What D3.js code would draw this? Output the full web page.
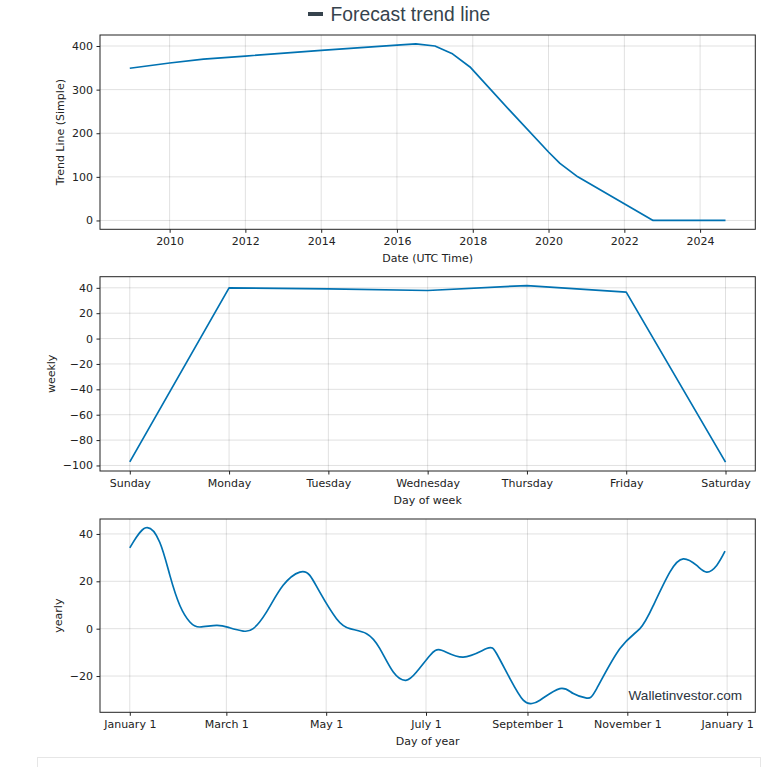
<!DOCTYPE html>
<html>
<head>
<meta charset="utf-8">
<script src="https://cdn.jsdelivr.net/npm/d3@7"></script>
<style>
  html, body { margin: 0; padding: 0; background: #fff; }
  svg { display: block; }
  .tick text { font-family: "DejaVu Sans", sans-serif; font-size: 11px; fill: #222; }
</style>
</head>
<body>
<svg id="chart" width="777" height="767"></svg>
<script>
// ---------------- DATA ----------------
const trendDates = ["2008-12-13","2010-01-01","2010-11-24","2012-01-01","2014-01-01","2016-01-01",
  "2016-07-01","2017-01-01","2017-06-13","2017-12-05","2019-01-01","2020-01-01","2020-04-20",
  "2020-10-09","2022-10-05","2024-09-02"];
const trendValues = [349, 361, 370, 377, 390, 402, 405, 400, 383, 352, 250, 157, 131, 100, 0, 0];
const trendTickYears = [2010, 2012, 2014, 2016, 2018, 2020, 2022, 2024];
const trendYTicks = [0, 100, 200, 300, 400];

const weekDays = ["Sunday","Monday","Tuesday","Wednesday","Thursday","Friday","Saturday"];
const weeklyValues = [-97.2, 40.0, 39.2, 37.9, 41.8, 36.6, -97.4];
const weeklyYTicks = [-100, -80, -60, -40, -20, 0, 20, 40];

const yearlyDays = [0, 9.8, 18.3, 24.5, 30.6, 36.7, 42.8, 53, 61, 69.3, 75.4, 83.5, 93.7, 103.9, 110,
  116.1, 126.3, 134.5, 144.7, 152.8, 161, 168.7, 175.2, 183.4, 190.5, 203.7, 218, 224.1, 232.3,
  240.4, 245.5, 250.6, 262.8, 271, 279.2, 285.3, 299.5, 311.7, 319.9, 330, 338.2, 346.4, 352.5,
  358.6, 363.7];
const yearlyValues = [34.1, 42.6, 36.5, 22.5, 9.8, 2.8, 0.7, 1.4, 0.4, -1.0, 0, 7.0, 18.3, 23.9, 22.5,
  15.4, 4.2, 0, -2.1, -8.4, -18.3, -21.8, -18.3, -11.3, -9.1, -12.0, -8.4, -10.5, -21.1,
  -30.2, -31.6, -30.2, -25.3, -27.4, -29.3, -25.3, -8.4, 0, 9.8, 23.9, 29.5, 26.7, 23.9,
  26.7, 32.7];
const yearlyTickLabels = ["January 1","March 1","May 1","July 1","September 1","November 1","January 1"];
const yearlyTickDates = ["2017-01-01","2017-03-01","2017-05-01","2017-07-01","2017-09-01","2017-11-01","2018-01-01"];
const yearlyYTicks = [-20, 0, 20, 40];

// ---------------- LAYOUT ----------------
const svg = d3.select("#chart");
const lineColor = "#0072B2";
const L = 100, R = 755.3;
const panels = [
  { top: 35, bottom: 229.3, ylabX: 60, ylabel: "Trend Line (Simple)", xlabel: "Date (UTC Time)" },
  { top: 276.7, bottom: 471, ylabX: 51, ylabel: "weekly", xlabel: "Day of week" },
  { top: 519, bottom: 712.3, ylabX: 58, ylabel: "yearly", xlabel: "Day of year" }
];

function pad(ext, isTime) {
  const a = +ext[0], b = +ext[1], m = (b - a) * 0.05;
  return isTime ? [new Date(a - m), new Date(b + m)] : [a - m, b + m];
}

function drawPanel(p, x, y, xTicks, xFmt, yTicks, data, curve) {
  const g = svg.append("g");
  // grid
  g.append("g").selectAll("line").data(xTicks).join("line")
    .attr("x1", d => x(d)).attr("x2", d => x(d))
    .attr("y1", p.top).attr("y2", p.bottom)
    .attr("stroke", "#000").attr("stroke-opacity", 0.12).attr("stroke-width", 1);
  g.append("g").selectAll("line").data(yTicks).join("line")
    .attr("x1", L).attr("x2", R)
    .attr("y1", d => y(d)).attr("y2", d => y(d))
    .attr("stroke", "#000").attr("stroke-opacity", 0.12).attr("stroke-width", 1);
  // line
  g.append("path").datum(data)
    .attr("fill", "none").attr("stroke", lineColor).attr("stroke-width", 1.7)
    .attr("stroke-linejoin", "round")
    .attr("d", d3.line().x(d => x(d[0])).y(d => y(d[1])).curve(curve));
  // axes
  const xa = g.append("g").attr("transform", `translate(0,${p.bottom})`)
    .call(d3.axisBottom(x).tickValues(xTicks).tickFormat(xFmt).tickSizeOuter(0).tickSize(3.5).tickPadding(4.2));
  const ya = g.append("g").attr("transform", `translate(${L},0)`)
    .call(d3.axisLeft(y).tickValues(yTicks).tickSizeOuter(0).tickSize(3.5).tickPadding(3.5));
  [xa, ya].forEach(a => { a.select(".domain").remove(); a.selectAll(".tick line").attr("stroke", "#222"); });
  // frame
  g.append("rect").attr("x", L).attr("y", p.top).attr("width", R - L).attr("height", p.bottom - p.top)
    .attr("fill", "none").attr("stroke", "#222").attr("stroke-width", 1);
  // labels
  g.append("text").attr("x", (L + R) / 2).attr("y", p.bottom + 32.8)
    .attr("text-anchor", "middle").attr("font-family", "DejaVu Sans, sans-serif").attr("font-size", 11)
    .attr("fill", "#222").text(p.xlabel);
  g.append("text").attr("transform", `translate(${p.ylabX},${(p.top + p.bottom) / 2}) rotate(-90)`)
    .attr("dy", "0.35em").attr("text-anchor", "middle")
    .attr("font-family", "DejaVu Sans, sans-serif").attr("font-size", 11)
    .attr("fill", "#222").text(p.ylabel);
  return g;
}

// Panel 1: trend
{
  const p = panels[0];
  const parse = d3.utcParse("%Y-%m-%d");
  const data = trendDates.map((d, i) => [parse(d), trendValues[i]]);
  const x = d3.scaleUtc().domain(pad(d3.extent(data, d => d[0]), true)).range([L, R]);
  const y = d3.scaleLinear().domain(pad(d3.extent(data, d => d[1]))).range([p.bottom, p.top]);
  const xt = trendTickYears.map(yr => new Date(Date.UTC(yr, 0, 1)));
  drawPanel(p, x, y, xt, d3.utcFormat("%Y"), trendYTicks, data, d3.curveLinear);
}

// Panel 2: weekly
{
  const p = panels[1];
  const data = weeklyValues.map((v, i) => [i, v]);
  const x = d3.scaleLinear().domain(pad([0, weekDays.length - 1])).range([L, R]);
  const y = d3.scaleLinear().domain(pad(d3.extent(weeklyValues))).range([p.bottom, p.top]);
  drawPanel(p, x, y, d3.range(weekDays.length), i => weekDays[i], weeklyYTicks, data, d3.curveLinear);
}

// Panel 3: yearly
{
  const p = panels[2];
  const start = Date.UTC(2017, 0, 1);
  const day = 86400000;
  const data = yearlyDays.map((d, i) => [new Date(start + d * day), yearlyValues[i]]);
  const x = d3.scaleUtc().domain(pad([new Date(start), new Date(start + 364 * day)], true)).range([L, R]);
  const y = d3.scaleLinear().domain(pad(d3.extent(yearlyValues))).range([p.bottom, p.top]);
  const parse = d3.utcParse("%Y-%m-%d");
  const xt = yearlyTickDates.map(parse);
  const g = drawPanel(p, x, y, xt, (d, i) => yearlyTickLabels[i], yearlyYTicks, data, d3.curveNatural);
  g.append("text").attr("x", 628.5).attr("y", 700).attr("font-family", "Liberation Sans, Arial, sans-serif")
    .attr("font-size", 13.6).attr("fill", "#2b3440").text("Walletinvestor.com");
}

// Title
svg.append("rect").attr("x", 308).attr("y", 12).attr("width", 15).attr("height", 4).attr("fill", "#36434d");
svg.append("text").attr("x", 330.5).attr("y", 21).attr("font-family", "Liberation Sans, Arial, sans-serif")
  .attr("font-size", 19.3).attr("fill", "#36434d").text("Forecast trend line");

// Faint container box at the bottom
svg.append("rect").attr("x", 37.5).attr("y", 757.5).attr("width", 723).attr("height", 30)
  .attr("fill", "none").attr("stroke", "#e6e6e6").attr("stroke-width", 1);
</script>
</body>
</html>
